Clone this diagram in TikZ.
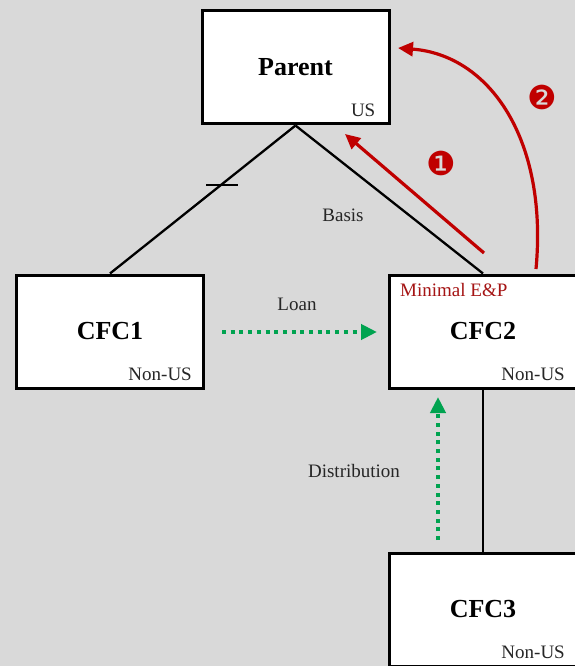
\documentclass[tikz,border=0pt]{standalone}
\usepackage{fontspec}
\setmainfont{Liberation Serif}
\newfontfamily\dingfont{DejaVu Sans}
\usetikzlibrary{arrows.meta}
\definecolor{bggray}{RGB}{217,217,217}
\definecolor{arrowred}{RGB}{192,0,0}
\definecolor{epred}{RGB}{165,20,20}
\definecolor{flowgreen}{RGB}{0,163,80}
\begin{document}
\begin{tikzpicture}[x=1pt, y=-1pt, box node/.style={rectangle,draw,fill=white,line width=3pt,minimum width=187pt,minimum height=113pt,inner sep=0pt,font=\bfseries\fontsize{26}{30}\selectfont}, tag/.style={font=\fontsize{19}{22}\selectfont,inner sep=0pt,text=black!85}, red arrow/.style={draw=arrowred,line width=3.2pt,-{Triangle[length=15pt,width=14pt]}}, green arrow/.style={draw=flowgreen,line width=4pt,dash pattern=on 4pt off 4.7pt,-{Triangle[length=16pt,width=15pt]}}, num/.style={text=arrowred,inner sep=0pt,font=\dingfont\fontsize{33}{36}\selectfont}]
\clip (0,0) rectangle (575,666);
\fill[bggray] (0,0) rectangle (575,666);
% entities
\node[box node] (parent) at (295.5,67.5) {Parent};
\node[box node] (cfc1) at (110,331.5) {CFC1};
\node[box node] (cfc2) at (483,331.5) {CFC2};
\node[box node] (cfc3) at (483,609.5) {CFC3};
\node[tag, anchor=south east] (parent us) at ([xshift=-15pt,yshift=9pt]parent.south east) {US};
\node[tag, anchor=south east] (cfc1 nonus) at ([xshift=-13pt,yshift=9pt]cfc1.south east) {Non-US};
\node[tag, anchor=south east] (cfc2 nonus) at ([xshift=-13pt,yshift=9pt]cfc2.south east) {Non-US};
\node[tag, anchor=south east] (cfc3 nonus) at ([xshift=-13pt,yshift=9pt]cfc3.south east) {Non-US};
\node[tag, text=epred, anchor=north west] (minimal ep) at ([xshift=12pt,yshift=-10pt]cfc2.north west) {Minimal E\&P};
% ownership
\begin{scope}[line width=2.3pt]
\draw (parent.south) -- coordinate[pos=0.4] (cut) (cfc1.north);
\draw (cut) ++(-15pt,0) -- ++(32pt,0);
\draw (parent.south) -- (cfc2.north);
\draw (cfc2.south) -- (cfc3.north);
\end{scope}
\node[tag] (basis) at (343,215) {Basis};
% flows
\coordinate (r1 start) at (484,253);
\coordinate (r1 end) at (345,134);
\coordinate (r2 start) at (536,269);
\coordinate (r2 end) at (398,48);
\draw[red arrow] (r1 start) -- (r1 end);
\draw[red arrow] (r2 start) .. controls (548,140) and (490,55) .. (r2 end);
\node[num] (num1) at (441,163) {❶};
\node[num] (num2) at (542,97) {❷};
\coordinate (loan start) at (222,332);
\coordinate (loan end) at (377,332);
\coordinate (dist start) at (438,540);
\coordinate (dist end) at (438,397);
\draw[green arrow] (loan start) -- (loan end);
\draw[green arrow] (dist start) -- (dist end);
\node[tag] (loan) at (297,304) {Loan};
\node[tag] (distribution) at (354,471) {Distribution};
\end{tikzpicture}
\end{document}
